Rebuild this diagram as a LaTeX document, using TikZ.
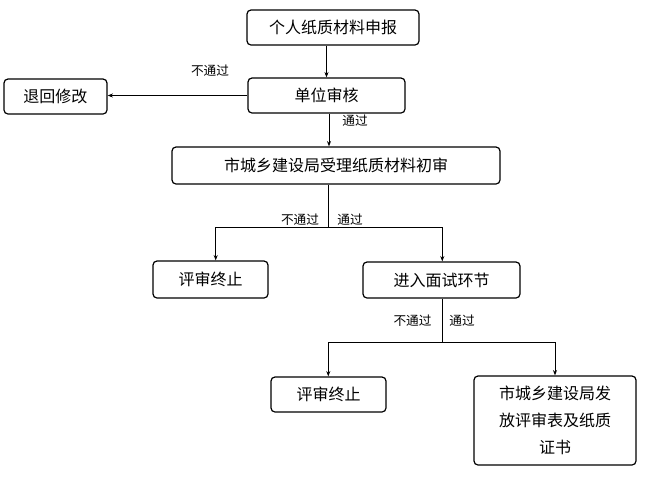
\documentclass[tikz,border=0pt]{standalone}
\usepackage{fontspec}
\newfontfamily\cjk{Noto Sans CJK SC}
\usetikzlibrary{arrows.meta}
\begin{document}
\begin{tikzpicture}[x=0.75pt,y=-0.75pt,
  box/.style={draw,line width=0.9pt,rounded corners=3pt,inner sep=0pt,font=\cjk\fontsize{12pt}{15pt}\selectfont},
  arr/.style={draw,line width=0.6pt,-{Stealth[length=4pt,width=3pt]}},
  lbl/.style={font=\cjk\fontsize{9.5pt}{11pt}\selectfont,inner sep=0pt}]
\useasboundingbox (0,0) rectangle (647,480);
\node[box,minimum width=172*0.75pt,minimum height=35*0.75pt] (A) at (333,27.5) {个人纸质材料申报};
\node[box,minimum width=157*0.75pt,minimum height=35*0.75pt] (B) at (326.5,95.5) {单位审核};
\node[box,minimum width=103*0.75pt,minimum height=35*0.75pt] (C) at (55.5,96.5) {退回修改};
\node[box,minimum width=328*0.75pt,minimum height=37*0.75pt] (D) at (336,165.5) {市城乡建设局受理纸质材料初审};
\node[box,minimum width=115*0.75pt,minimum height=37*0.75pt] (E) at (210.5,279.5) {评审终止};
\node[box,minimum width=157*0.75pt,minimum height=36*0.75pt] (F) at (441.5,280) {进入面试环节};
\node[box,minimum width=115*0.75pt,minimum height=35*0.75pt] (G) at (328.5,394.5) {评审终止};
\node[box,minimum width=162*0.75pt,minimum height=89*0.75pt,align=center,font=\cjk\fontsize{12pt}{20pt}\selectfont] (H) at (555,420.5) {市城乡建设局发\\放评审表及纸质\\证书};

\coordinate (j1) at (328.3,227.3);
\coordinate (j2) at (442.3,342.3);

\draw[arr] (A.south -| B) -- (B.north);
\draw[arr] (B.west) -- (C.east |- B.west);
\draw[arr] (B.south -| 329,0) -- (D.north -| 329,0);
\draw[line width=0.6pt] (D.south -| j1) -- (j1);
\draw[arr] (j1) -| (E.north -| 215.7,0);
\draw[arr] (j1) -| (F.north -| 442.3,0);
\draw[line width=0.6pt] (F.south -| j2) -- (j2);
\draw[arr] (j2) -| (G.north -| 328.3,0);
\draw[arr] (j2) -| (H.north);

\node[lbl] (l1) at (210,71) {不通过};
\node[lbl] (l2) at (355,121) {通过};
\node[lbl] (l3) at (300,220) {不通过};
\node[lbl] (l4) at (350,220) {通过};
\node[lbl] (l5) at (412.5,321) {不通过};
\node[lbl] (l6) at (462,321) {通过};
\end{tikzpicture}
\end{document}
